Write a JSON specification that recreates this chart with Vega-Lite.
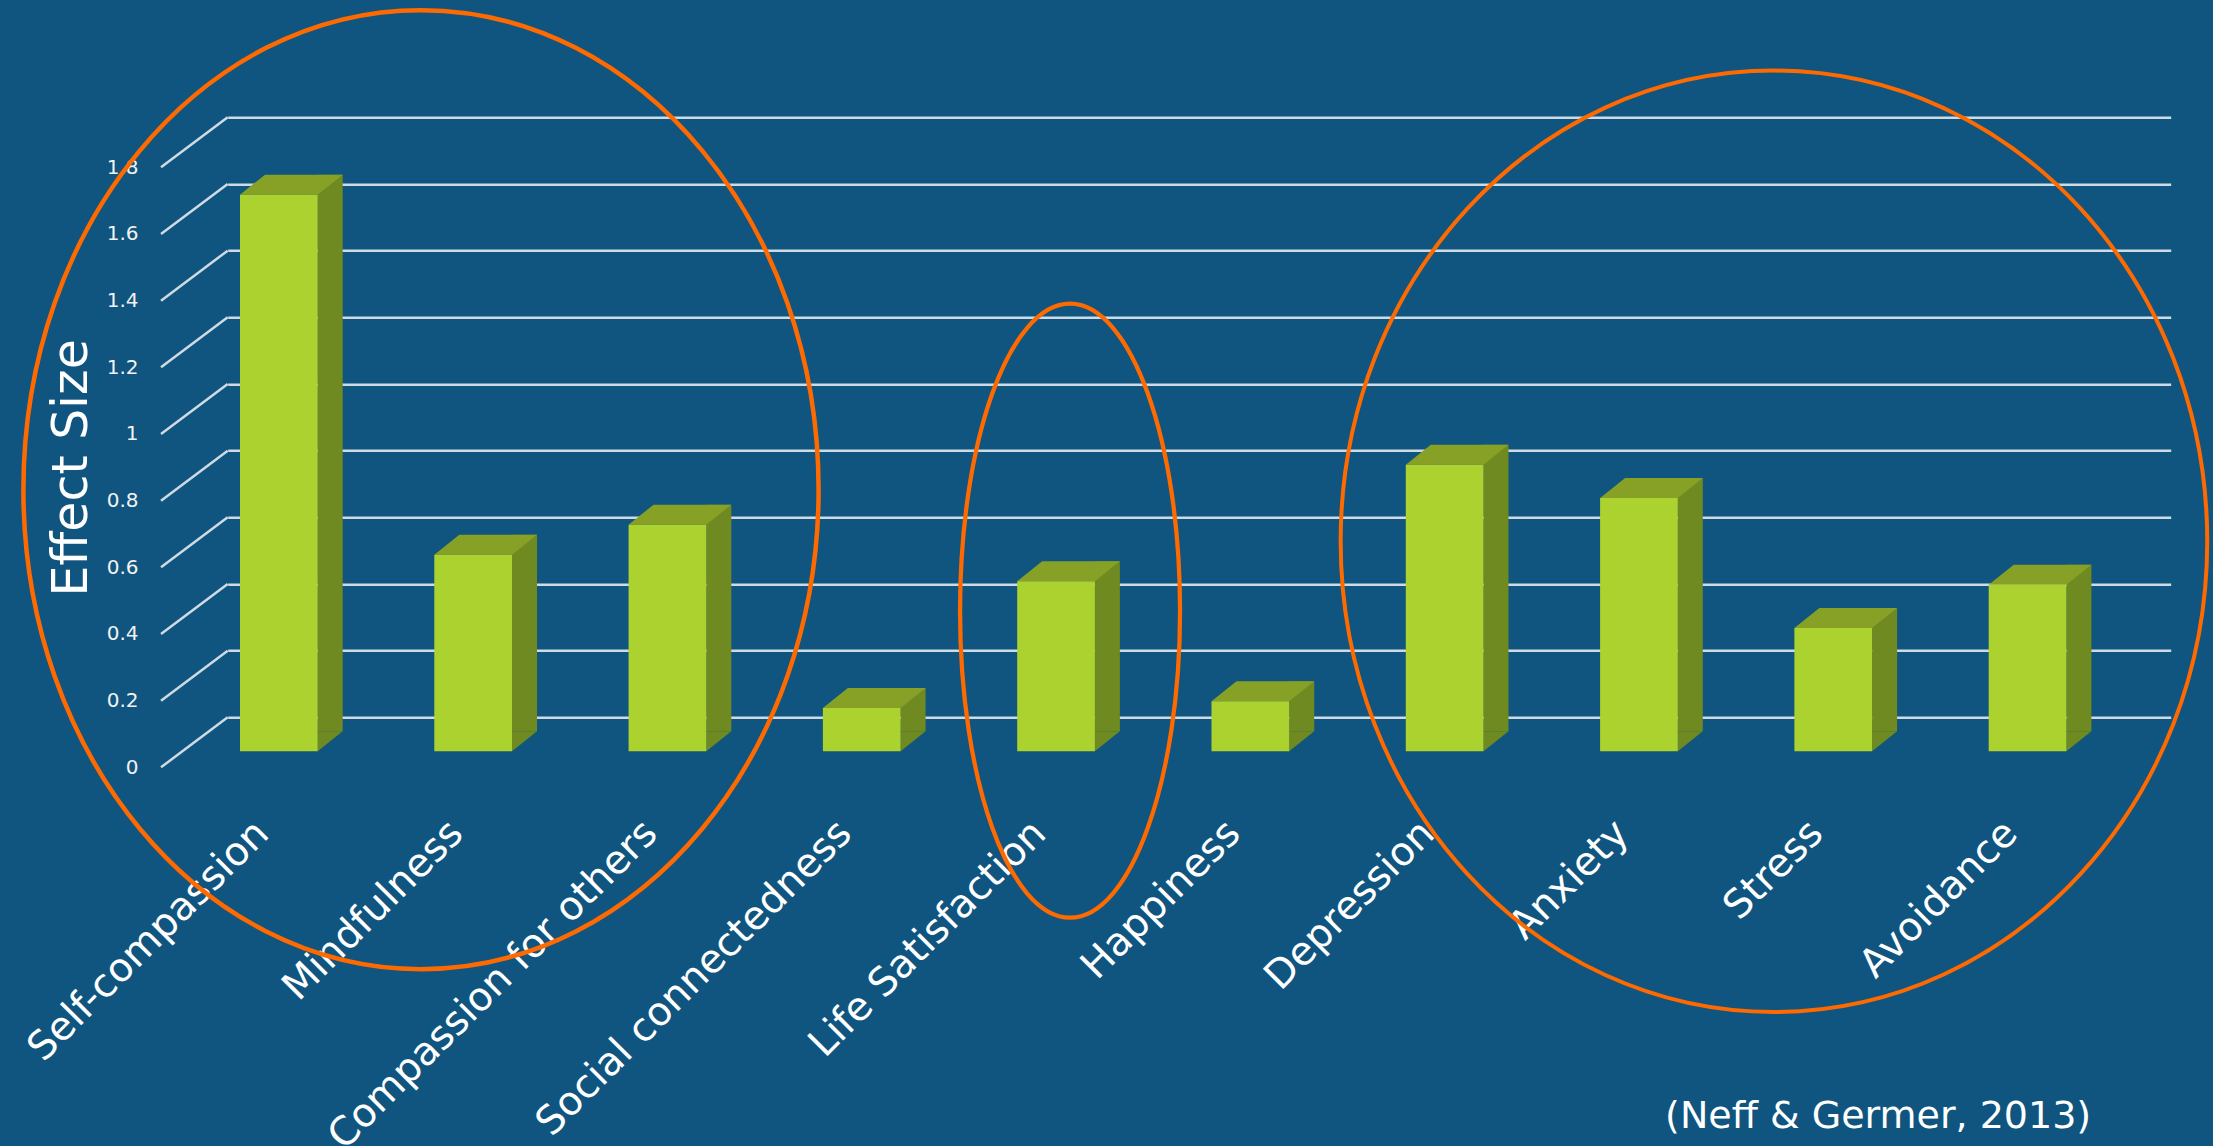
{
  "$schema": "https://vega.github.io/schema/vega-lite/v6.json",
  "width": 1943,
  "height": 600,
  "autosize": {"type": "none"},
  "padding": {"left": 227.7, "top": 117.3, "right": 42.3, "bottom": 428.7},
  "background": "#0f557f",
  "config": {"view": {"stroke": null}, "font": "DejaVu Sans"},
  "datasets": {
    "effects": [
      {"category": "Self-compassion", "effect": 1.67},
      {"category": "Mindfulness", "effect": 0.59},
      {"category": "Compassion for others", "effect": 0.68},
      {"category": "Social connectedness", "effect": 0.13},
      {"category": "Life Satisfaction", "effect": 0.51},
      {"category": "Happiness", "effect": 0.15},
      {"category": "Depression", "effect": 0.86},
      {"category": "Anxiety", "effect": 0.76},
      {"category": "Stress", "effect": 0.37},
      {"category": "Avoidance", "effect": 0.5}
    ],
    "ticks": [
      {"tick": 0}, {"tick": 0.2}, {"tick": 0.4}, {"tick": 0.6}, {"tick": 0.8},
      {"tick": 1}, {"tick": 1.2}, {"tick": 1.4}, {"tick": 1.6}, {"tick": 1.8}
    ],
    "highlights": [
      {"group": "A", "category": "Self-compassion", "center": 0.683},
      {"group": "B", "category": "Life Satisfaction", "center": 0.32},
      {"group": "C", "category": "Anxiety", "center": 0.528}
    ]
  },
  "layer": [
    {
      "data": {"name": "ticks"},
      "mark": {"type": "rule", "color": "#cfdbe4", "strokeWidth": 2.5, "y2Offset": 50},
      "encoding": {
        "x": {"value": 0},
        "x2": {"value": -66.7},
        "y": {
          "field": "tick",
          "type": "quantitative",
          "scale": {"domain": [0, 1.8], "nice": false},
          "axis": {
            "title": "Effect Size",
            "values": [0, 0.2, 0.4, 0.6, 0.8, 1, 1.2, 1.4, 1.6, 1.8],
            "format": "~g",
            "domain": false,
            "ticks": false,
            "tickSize": 0,
            "labelPadding": 89.7,
            "labelOffset": 50,
            "labelFontSize": 20,
            "labelFontWeight": "normal",
            "labelColor": "#f2f2f2",
            "labelFont": "DejaVu Sans",
            "grid": true,
            "gridColor": "#cfdbe4",
            "gridWidth": 2.5,
            "gridOpacity": 1,
            "titleFont": "DejaVu Sans",
            "titleFontSize": 49,
            "titleFontWeight": "normal",
            "titleColor": "#ffffff",
            "titleAngle": -90,
            "titleX": -141,
            "titleY": 350,
            "titleAlign": "center",
            "titleBaseline": "alphabetic"
          }
        },
        "y2": {"field": "tick"}
      }
    },
    {
      "data": {"name": "effects"},
      "mark": {"type": "bar", "color": "#6e8a20", "width": 25, "xOffset": 5.35, "yOffset": 14, "y2Offset": 14},
      "encoding": {
        "x": {"field": "category", "type": "nominal", "sort": null},
        "y": {"field": "effect", "type": "quantitative", "scale": {"domain": [0, 1.8], "nice": false}},
        "y2": {"datum": 0}
      }
    },
    {
      "data": {"name": "effects"},
      "mark": {"type": "point", "filled": true, "size": 4, "opacity": 1, "strokeWidth": 0, "color": "#6e8a20", "shape": "M -7.15 14 L 17.85 14 L -7.15 34 Z"},
      "encoding": {
        "x": {"field": "category", "type": "nominal", "sort": null},
        "y": {"datum": 0, "type": "quantitative", "scale": {"domain": [0, 1.8], "nice": false}}
      }
    },
    {
      "data": {"name": "effects"},
      "mark": {"type": "point", "filled": true, "size": 4, "opacity": 1, "strokeWidth": 0, "color": "#87a127", "shape": "M -84.85 34 L -59.85 14 L 17.85 14 L -7.15 34 Z"},
      "encoding": {
        "x": {"field": "category", "type": "nominal", "sort": null},
        "y": {"field": "effect", "type": "quantitative", "scale": {"domain": [0, 1.8], "nice": false}}
      }
    },
    {
      "data": {"name": "effects"},
      "mark": {"type": "bar", "color": "#acd22f", "xOffset": -46, "yOffset": 34, "y2Offset": 34},
      "encoding": {
        "x": {
          "field": "category",
          "type": "nominal",
          "sort": null,
          "scale": {
            "domain": ["Self-compassion", "Mindfulness", "Compassion for others", "Social connectedness", "Life Satisfaction", "Happiness", "Depression", "Anxiety", "Stress", "Avoidance"],
            "paddingInner": 0.6,
            "paddingOuter": 0.3
          },
          "axis": {
            "title": "(Neff & Germer, 2013)",
            "domain": false,
            "ticks": false,
            "tickSize": 0,
            "grid": false,
            "labelAngle": -45,
            "labelAlign": "right",
            "labelBaseline": "top",
            "labelOffset": -76,
            "labelPadding": 96,
            "labelFont": "DejaVu Sans",
            "labelFontSize": 39.5,
            "labelFontWeight": "normal",
            "labelColor": "#ffffff",
            "labelLimit": 2000,
            "labelOverlap": false,
            "labelBound": false,
            "titleFont": "DejaVu Sans",
            "titleFontSize": 38,
            "titleFontWeight": "normal",
            "titleColor": "#ffffff",
            "titleX": 1863,
            "titleY": 409.7,
            "titleAlign": "right",
            "titleBaseline": "alphabetic",
            "titleAnchor": null
          }
        },
        "y": {"field": "effect", "type": "quantitative", "scale": {"domain": [0, 1.8], "nice": false}},
        "y2": {"datum": 0}
      }
    },
    {
      "data": {"name": "highlights"},
      "mark": {"type": "point", "filled": false, "size": 4, "opacity": 1, "stroke": "#ff6a00"},
      "encoding": {
        "x": {"field": "category", "type": "nominal", "sort": null},
        "y": {"field": "center", "type": "quantitative", "scale": {"domain": [0, 1.8], "nice": false}},
        "shape": {
          "field": "group",
          "type": "nominal",
          "scale": {
            "domain": ["A", "B", "C"],
            "range": [
              "M -301.45 0 A 397.6 479.5 0 1 0 493.75 0 A 397.6 479.5 0 1 0 -301.45 0 Z",
              "M -142 0 A 110 307 0 1 0 78 0 A 110 307 0 1 0 -142 0 Z",
              "M -344.3 0 A 433.3 470.7 0 1 0 522.3 0 A 433.3 470.7 0 1 0 -344.3 0 Z"
            ]
          },
          "legend": null
        },
        "strokeWidth": {
          "field": "group",
          "type": "ordinal",
          "scale": {"domain": ["A", "B", "C"], "range": [4.5, 4, 4.5]},
          "legend": null
        }
      }
    }
  ]
}
